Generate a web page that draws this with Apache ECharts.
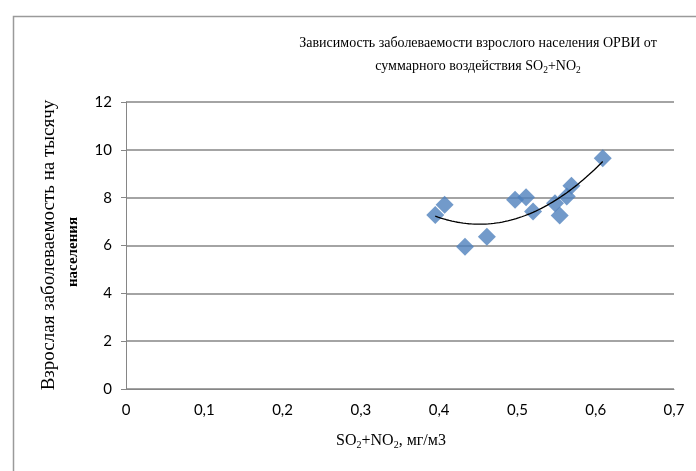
<!DOCTYPE html>
<html><head><meta charset="utf-8">
<script src="https://cdn.jsdelivr.net/npm/echarts@6/dist/echarts.min.js"></script>
<style>html,body{margin:0;padding:0;background:#fff}#c{width:696px;height:471px}</style>
</head><body><div id="c"></div>
<script>
const xValues = [0.395, 0.407, 0.433, 0.461, 0.497, 0.511, 0.520, 0.548, 0.554, 0.563, 0.569, 0.609];
const yValues = [7.28, 7.70, 5.95, 6.37, 7.91, 8.02, 7.42, 7.77, 7.25, 8.05, 8.50, 9.65];
const xTicks = ['0','0,1','0,2','0,3','0,4','0,5','0,6','0,7'];
const yTicks = ['0','2','4','6','8','10','12'];

// quadratic least-squares trendline from the data
function polyFit2(xs, ys) {
  let n = xs.length, s = [0,0,0,0,0], t = [0,0,0];
  for (let i = 0; i < n; i++) {
    let p = 1;
    for (let k = 0; k < 5; k++) { s[k] += p; if (k < 3) t[k] += p * ys[i]; p *= xs[i]; }
  }
  const A = [[s[0],s[1],s[2],t[0]],[s[1],s[2],s[3],t[1]],[s[2],s[3],s[4],t[2]]];
  for (let i = 0; i < 3; i++) {
    for (let j = i + 1; j < 3; j++) {
      const f = A[j][i] / A[i][i];
      for (let k = i; k < 4; k++) A[j][k] -= f * A[i][k];
    }
  }
  const c = [0,0,0];
  for (let i = 2; i >= 0; i--) {
    let v = A[i][3];
    for (let k = i + 1; k < 3; k++) v -= A[i][k] * c[k];
    c[i] = v / A[i][i];
  }
  return c;
}
const coef = polyFit2(xValues, yValues);
const xmin = Math.min(...xValues), xmax = Math.max(...xValues);
const trend = [];
for (let i = 0; i <= 60; i++) {
  const x = xmin + (xmax - xmin) * i / 60;
  trend.push([x, coef[0] + coef[1] * x + coef[2] * x * x]);
}

const serif = '"Liberation Serif", "Times New Roman", serif';
const sans = 'Lato, "Open Sans", sans-serif';
const chart = echarts.init(document.getElementById('c'));
chart.setOption({
  animation: false,
  title: {
    text: 'Зависимость заболеваемости взрослого населения ОРВИ от\n{a|суммарного воздействия SO}{s|2}{a|+NO}{s|2}',
    left: 473, top: 27, textAlign: 'center',
    textStyle: {
      fontFamily: serif, fontSize: 14, fontWeight: 'normal', color: '#000', lineHeight: 23,
      rich: {
        a: { fontFamily: serif, fontSize: 14, color: '#000', lineHeight: 23 },
        s: { fontFamily: serif, fontSize: 9.5, color: '#000', lineHeight: 23, padding: [7, 0, 0, 0] }
      }
    }
  },
  grid: { left: 126, right: 22, top: 102, bottom: 82, containLabel: false },
  xAxis: {
    type: 'value', min: 0, max: 0.7, interval: 0.1,
    axisLine: { show: true, lineStyle: { color: '#868686', width: 1 } },
    axisTick: { show: false },
    splitLine: { show: false },
    axisLabel: {
      margin: 14, color: '#000', fontFamily: sans, fontSize: 15,
      formatter: (v) => xTicks[Math.round(v * 10)]
    }
  },
  yAxis: {
    type: 'value', min: 0, max: 12, interval: 2,
    axisLine: { show: true, lineStyle: { color: '#868686', width: 1 } },
    axisTick: { show: true, inside: false, length: 5, lineStyle: { color: '#868686' } },
    splitLine: { show: true, lineStyle: { color: '#868686', width: 1.5 } },
    axisLabel: {
      margin: 14, color: '#000', fontFamily: sans, fontSize: 15,
      formatter: (v) => yTicks[Math.round(v / 2)]
    }
  },
  graphic: [
    { type: 'rect', left: 11, top: 14, shape: { width: 720, height: 480 }, style: { fill: 'none', stroke: '#9a9a9a', lineWidth: 1.5 }, z: 0 },
    { type: 'text', x: 49, y: 245, rotation: Math.PI / 2, style: { text: 'Взрослая заболеваемость на тысячу', font: '19px ' + serif, fill: '#000', align: 'center', verticalAlign: 'middle' } },
    { type: 'text', x: 73, y: 252, rotation: Math.PI / 2, style: { text: 'населения', font: 'bold 15px ' + serif, fill: '#000', align: 'center', verticalAlign: 'middle' } },
    { type: 'text', x: 391, y: 441, style: {
        text: '{a|SO}{s|2}{a|+NO}{s|2}{a|, мг/м3}', align: 'center', verticalAlign: 'middle',
        rich: {
          a: { fontFamily: serif, fontSize: 16, fill: '#000', lineHeight: 22 },
          s: { fontFamily: serif, fontSize: 10, fill: '#000', lineHeight: 22, padding: [9, 0, 0, 0] }
        }
      } }
  ],
  series: [
    {
      type: 'scatter', symbol: 'diamond', symbolSize: 18,
      itemStyle: { color: '#4F81BD' },
      data: xValues.map((x, i) => [x, yValues[i]]), z: 3
    },
    {
      type: 'line', data: trend, showSymbol: false, smooth: false,
      lineStyle: { color: '#000', width: 1.3 }, z: 4
    }
  ]
});
</script></body></html>
